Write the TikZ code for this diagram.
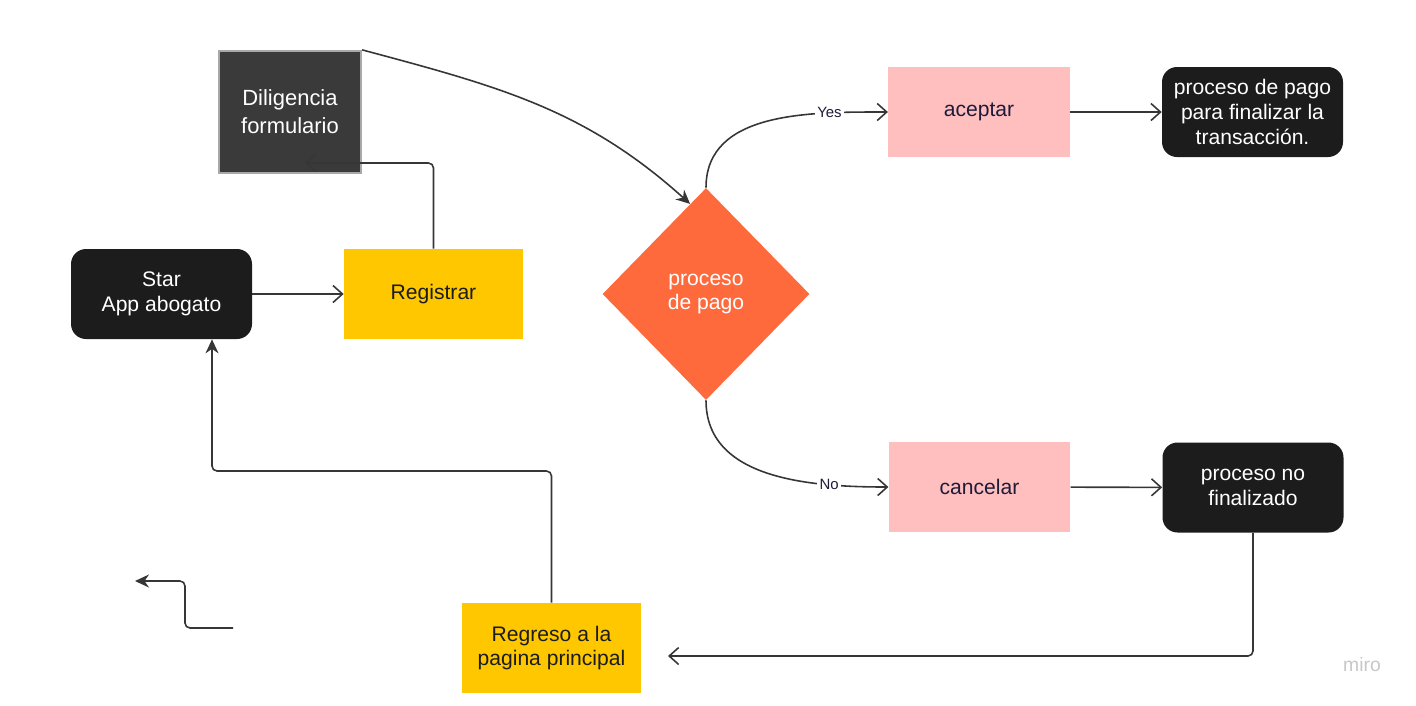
\documentclass[tikz,border=0pt]{standalone}
\usepackage{fontspec}
\setmainfont{Liberation Sans}
\usetikzlibrary{shapes.geometric,arrows.meta,calc}
\definecolor{boxblack}{HTML}{1C1C1C}
\definecolor{formgray}{HTML}{3A3A3A}
\definecolor{formedge}{HTML}{A8A8A8}
\definecolor{stepyellow}{HTML}{FFC700}
\definecolor{steppink}{HTML}{FFBFBF}
\definecolor{payorange}{HTML}{FF6A3D}
\definecolor{linecol}{HTML}{363636}
\definecolor{inkdark}{HTML}{1E1B3A}
\tikzset{
  boxtext/.style={font=\fontsize{12}{14}\selectfont, align=center, inner sep=0pt},
  darkbox/.style={boxtext, fill=boxblack, text=white, rounded corners=0.3cm, minimum width=3.62cm, minimum height=1.8cm},
  yellowbox/.style={boxtext, fill=stepyellow, text=boxblack, minimum width=3.58cm, minimum height=1.8cm},
  pinkbox/.style={boxtext, fill=steppink, text=inkdark, minimum width=3.63cm, minimum height=1.8cm},
  link/.style={draw=linecol, line width=0.9pt, -{Straight Barb[length=1.9mm,width=3.4mm]}},
  flink/.style={draw=linecol, line width=0.9pt, -{Stealth[length=2.8mm,width=2.6mm]}},
  answer/.style={font=\fontsize{8.5}{10}\selectfont, text=inkdark, fill=white, inner sep=1.5pt}
}
\begin{document}
\begin{tikzpicture}
  \useasboundingbox (0,0) rectangle (28.32,-14.10);
  %--- Nodes
  \node[darkbox] (star) at (3.23,-5.88) {Star\\App abogato};
  \node[yellowbox] (reg) at (8.67,-5.88) {Registrar};
  \node[boxtext, fill=formgray, draw=formedge, line width=1.3pt, text=white,
        minimum width=2.84cm, minimum height=2.44cm,
        font=\fontsize{12.5}{16}\selectfont] (dil) at (5.80,-2.24) {Diligencia\\formulario};
  \node[diamond, boxtext, fill=payorange, text=white,
        minimum width=4.14cm, minimum height=4.24cm] (pay) at (14.12,-5.88) {proceso\\de pago};
  \node[pinkbox] (acep) at (19.58,-2.24) {aceptar};
  \node[darkbox] (fin) at (25.05,-2.24) {proceso de pago\\para finalizar la\\transacción.};
  \node[pinkbox] (canc) at (19.59,-9.74) {cancelar};
  \node[darkbox] (nofin) at (25.06,-9.75) {proceso no\\finalizado};
  \node[yellowbox] (regr) at (11.03,-12.96) {Regreso a la\\pagina principal};
  \node[text=black!22, font=\fontsize{11}{12}\selectfont] (miro) at (27.24,-13.30) {miro};
  %--- Free ends
  \coordinate (dilin) at (6.10,-3.26);
  \coordinate (regrin) at (13.36,-13.12);
  \coordinate (bend) at (4.24,-9.42);
  \coordinate (s1) at (4.66,-12.56);
  \coordinate (kink) at (3.70,-11.62);
  \coordinate (s2) at (2.70,-11.62);
  %--- Connectors
  \draw[link] (star) -- (reg);
  \draw[link, rounded corners=0.1cm] (reg.north) |- (dilin);
  \draw[flink] (dil.north east) to[out=-15,in=138] (pay.100);
  \draw[link] (pay.north) to[out=90,in=180] node[answer, pos=0.76]{Yes} (acep.west);
  \draw[link] (pay.south) to[out=-90,in=180] node[answer, pos=0.76]{No} (canc.west);
  \draw[link] (acep) -- (fin);
  \draw[link] (canc) -- (nofin);
  \draw[link, rounded corners=0.1cm] (nofin.south) |- (regrin);
  \draw[flink, rounded corners=0.1cm] (regr.north) |- (bend) -- (bend |- star.south);
  \draw[flink, rounded corners=0.1cm] (s1) -| (kink) -- (s2);
\end{tikzpicture}
\end{document}
